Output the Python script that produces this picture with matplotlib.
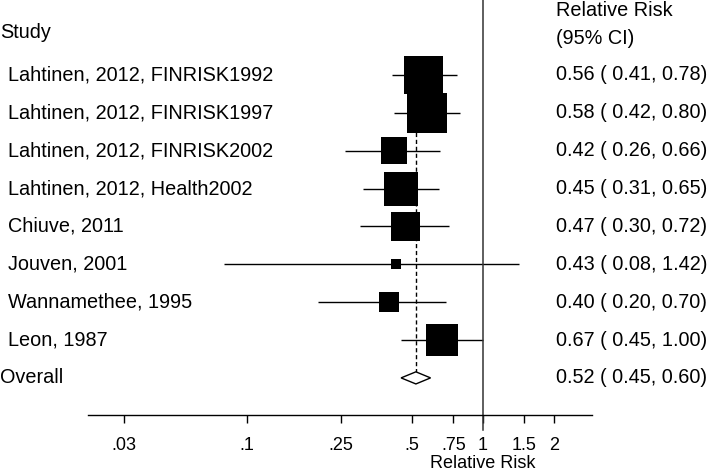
import numpy as np
import matplotlib.pyplot as plt
from matplotlib.transforms import blended_transform_factory

plt.rcParams['font.family'] = ['Liberation Sans', 'DejaVu Sans']

studies = ['Lahtinen, 2012, FINRISK1992', 'Lahtinen, 2012, FINRISK1997',
           'Lahtinen, 2012, FINRISK2002', 'Lahtinen, 2012, Health2002',
           'Chiuve, 2011', 'Jouven, 2001', 'Wannamethee, 1995', 'Leon, 1987']
rr = [0.56, 0.58, 0.42, 0.45, 0.47, 0.43, 0.40, 0.67]
lo = [0.41, 0.42, 0.26, 0.31, 0.30, 0.08, 0.20, 0.45]
hi = [0.78, 0.80, 0.66, 0.65, 0.72, 1.42, 0.70, 1.00]
weights = [20.4, 21.5, 10.0, 15.9, 11.6, 1.4, 5.5, 13.7]
overall = (0.52, 0.45, 0.60)
ticks = [0.03, 0.1, 0.25, 0.5, 0.75, 1, 1.5, 2]
tick_labels = ['.03', '.1', '.25', '.5', '.75', '1', '1.5', '2']

W, H = 709, 471
fig = plt.figure(figsize=(W / 100, H / 100), dpi=100)
ax = fig.add_axes([88 / W, (H - 415) / H, (592 - 88) / W, 415 / H])
ax.set_xscale('log')
ax.set_xlim(0.0212, 2.9)
ax.set_ylim(8.98, -1.98)

fs = 14.3
fs_axis = 13
n = len(studies)
rows = np.arange(n)
yo = n

# CI lines and boxes
ax.hlines(rows, lo, hi, color='black', lw=1.0, zorder=2)
side_px = 8.52 * np.sqrt(weights)
ax.scatter(rr, rows, marker='s', s=(side_px * 0.72) ** 2, color='black',
           linewidths=0, zorder=3)

# overall diamond
h = 0.16
ax.fill([overall[1], overall[0], overall[2], overall[0]],
        [yo, yo - h, yo, yo + h], facecolor='white', edgecolor='black',
        lw=1.0, zorder=3)
ax.vlines(overall[0], -0.5, yo - h, colors='black', linestyles=(0, (3, 2)),
          lw=1.0, zorder=1)

# null line
ax.plot([1, 1], [-1.98, 9.37], color='#333333', lw=1.1, clip_on=False, zorder=2)

for s in ['top', 'left', 'right']:
    ax.spines[s].set_visible(False)
ax.spines['bottom'].set_linewidth(1.0)
ax.set_yticks([])
ax.set_xticks(ticks)
ax.set_xticklabels(tick_labels, fontsize=fs_axis)
ax.minorticks_off()
ax.tick_params(axis='x', length=6, width=1.0, pad=10)
ax.text(1, -48 / 415, 'Relative Risk', transform=blended_transform_factory(ax.transData, ax.transAxes),
        ha='center', va='center', fontsize=fs_axis)

# text columns
tl = blended_transform_factory(fig.transFigure, ax.transData)
for i, name in enumerate(studies):
    ax.text(8 / W, i, name, transform=tl, ha='left', va='center', fontsize=fs)
    ax.text(556 / W, i, f'{rr[i]:.2f} ( {lo[i]:.2f}, {hi[i]:.2f})', transform=tl,
            ha='left', va='center', fontsize=fs)
ax.text(0, yo, 'Overall', transform=tl, ha='left', va='center', fontsize=fs)
ax.text(556 / W, yo, f'{overall[0]:.2f} ( {overall[1]:.2f}, {overall[2]:.2f})',
        transform=tl, ha='left', va='center', fontsize=fs)
ax.text(0, 1 - 33 / H, 'Study', transform=fig.transFigure, ha='left', va='center', fontsize=fs)
ax.text(556 / W, 1 - 11 / H, 'Relative Risk', transform=fig.transFigure, ha='left', va='center', fontsize=fs)
ax.text(556 / W, 1 - 38 / H, '(95% CI)', transform=fig.transFigure, ha='left', va='center', fontsize=fs)

fig.savefig('out.png', dpi=100)
